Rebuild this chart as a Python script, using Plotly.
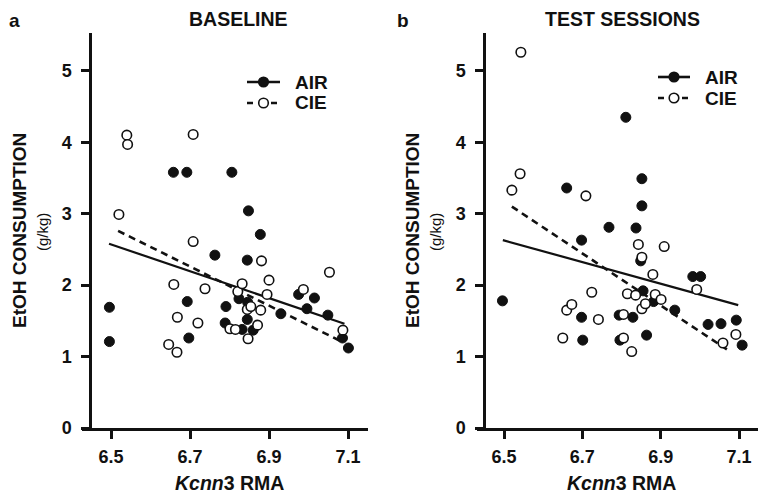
import plotly.graph_objects as go

# ---------------- data ----------------
# Panel a: BASELINE
a_air_x = [6.496, 6.496, 6.658, 6.692, 6.693, 6.697, 6.763, 6.791, 6.789, 6.806, 6.824, 6.846,
           6.832, 6.845, 6.845, 6.848, 6.860, 6.878, 6.930, 6.975, 6.996, 7.015, 7.049, 7.086, 7.101]
a_air_y = [1.69, 1.21, 3.58, 3.58, 1.77, 1.26, 2.42, 1.70, 1.47, 3.58, 1.81, 1.76,
           1.38, 2.35, 1.52, 3.04, 1.37, 2.71, 1.60, 1.87, 1.67, 1.82, 1.58, 1.26, 1.12]
a_cie_x = [6.520, 6.540, 6.542, 6.646, 6.659, 6.667, 6.668, 6.708, 6.708, 6.720, 6.738, 6.801, 6.815,
           6.821, 6.832, 6.845, 6.847, 6.854, 6.871, 6.881, 6.879, 6.895, 6.900, 6.987, 7.053, 7.087]
a_cie_y = [2.99, 4.10, 3.97, 1.17, 2.01, 1.06, 1.55, 4.11, 2.61, 1.47, 1.95, 1.39, 1.38,
           1.91, 2.02, 1.66, 1.25, 1.70, 1.44, 2.34, 1.65, 1.87, 2.07, 1.94, 2.18, 1.37]
a_fit_air_x = [6.495, 7.091]
a_fit_air_y = [2.58, 1.46]
a_fit_cie_x = [6.518, 7.080]
a_fit_cie_y = [2.76, 1.22]

# Panel b: TEST SESSIONS
b_air_x = [6.496, 6.660, 6.698, 6.698, 6.701, 6.768, 6.794, 6.796, 6.811, 6.829, 6.837, 6.849,
           6.852, 6.852, 6.855, 6.864, 6.882, 6.936, 6.982, 7.002, 7.021, 7.054, 7.093, 7.108]
b_air_y = [1.78, 3.36, 2.63, 1.55, 1.23, 2.81, 1.58, 1.23, 4.35, 1.55, 2.80, 2.34,
           3.49, 3.11, 1.92, 1.30, 1.77, 1.65, 2.12, 2.12, 1.45, 1.46, 1.51, 1.16]
b_cie_x = [6.520, 6.541, 6.543, 6.650, 6.660, 6.673, 6.709, 6.724, 6.741, 6.805, 6.805, 6.815, 6.826,
           6.836, 6.843, 6.852, 6.852, 6.861, 6.880, 6.886, 6.901, 6.909, 6.992, 7.059, 7.092]
b_cie_y = [3.33, 3.56, 5.26, 1.26, 1.65, 1.73, 3.25, 1.90, 1.52, 1.59, 1.26, 1.88, 1.07,
           1.86, 2.57, 2.39, 1.67, 1.74, 2.15, 1.87, 1.80, 2.54, 1.94, 1.19, 1.31]
b_fit_air_x = [6.497, 7.098]
b_fit_air_y = [2.63, 1.72]
b_fit_cie_x = [6.520, 7.069]
b_fit_cie_y = [3.10, 1.10]

x_ticks = [6.5, 6.7, 6.9, 7.1]
x_tick_labels = ["6.5", "6.7", "6.9", "7.1"]
y_ticks = [0, 1, 2, 3, 4, 5]
group_names = ["AIR", "CIE"]
panel_titles = ["BASELINE", "TEST SESSIONS"]
panel_letters = ["a", "b"]
x_title = "<i>Kcnn</i>3 RMA"
y_title = "EtOH CONSUMPTION"
y_unit = "(g/kg)"

FONT = "Liberation Sans, Arial, sans-serif"
BLACK = "#111111"

fig = go.Figure()

def add_panel(xa, ya, air_x, air_y, cie_x, cie_y, fax, fay, fcx, fcy):
    fig.add_trace(go.Scatter(x=fax, y=fay, mode="lines", xaxis=xa, yaxis=ya,
                             line=dict(color=BLACK, width=2.2), showlegend=False))
    fig.add_trace(go.Scatter(x=fcx, y=fcy, mode="lines", xaxis=xa, yaxis=ya,
                             line=dict(color=BLACK, width=2.6, dash="7px,5px"), showlegend=False))
    fig.add_trace(go.Scatter(x=air_x, y=air_y, mode="markers", xaxis=xa, yaxis=ya,
                             marker=dict(symbol="circle", size=10, color=BLACK,
                                         line=dict(color=BLACK, width=1)),
                             showlegend=False))
    fig.add_trace(go.Scatter(x=cie_x, y=cie_y, mode="markers", xaxis=xa, yaxis=ya,
                             marker=dict(symbol="circle", size=9.5, color="white",
                                         line=dict(color=BLACK, width=1.6)),
                             showlegend=False))

add_panel("x", "y", a_air_x, a_air_y, a_cie_x, a_cie_y,
          a_fit_air_x, a_fit_air_y, a_fit_cie_x, a_fit_cie_y)
add_panel("x2", "y2", b_air_x, b_air_y, b_cie_x, b_cie_y,
          b_fit_air_x, b_fit_air_y, b_fit_cie_x, b_fit_cie_y)

# The page body has an 8px margin, so the figure is 8px smaller than the window.
PAGE = 8
W, H = 766 - PAGE, 493 - PAGE
ML, MR, MT, MB = 82 - PAGE, 4, 33 - PAGE, 65
pw = W - ML - MR
ph = H - MT - MB

# screen pixel -> paper fraction
def px_x(p):
    return (p - 82) / pw

def px_y(p):
    return (428 - p) / ph

dom_a = [px_x(82), px_x(368)]
dom_b = [px_x(477), px_x(762)]

tickfont = dict(family=FONT, size=18, color=BLACK, weight="bold")
common_x = dict(showgrid=False, zeroline=False, showline=True, linecolor=BLACK, linewidth=2.5,
                ticks="outside", ticklen=8, tickwidth=2.5, tickcolor=BLACK,
                tickvals=x_ticks, ticktext=x_tick_labels, tickfont=tickfont,
                ticklabelstandoff=3)
common_y = dict(showgrid=False, zeroline=False, showline=True, linecolor=BLACK, linewidth=2.5,
                ticks="outside", ticklen=8, tickwidth=2.5, tickcolor=BLACK,
                tickvals=y_ticks, tickfont=tickfont, range=[0, 5.53],
                ticklabelstandoff=6)

fig.update_layout(
    width=W, height=H,
    margin=dict(l=ML, r=MR, t=MT, b=MB),
    paper_bgcolor="white", plot_bgcolor="white",
    xaxis=dict(domain=dom_a, range=[6.4266, 7.1506], anchor="y", **common_x),
    yaxis=dict(domain=[0, 1], anchor="free", position=px_x(90), **common_y),
    xaxis2=dict(domain=dom_b, range=[6.431, 7.1587], anchor="y2", **common_x),
    yaxis2=dict(domain=[0, 1], anchor="free", position=px_x(484), **common_y),
    showlegend=False,
)

def text(x, y, s, size, bold=True, angle=0, xanchor="center"):
    fig.add_annotation(xref="paper", yref="paper", x=px_x(x), y=px_y(y), text=s,
                       showarrow=False, xanchor=xanchor, yanchor="middle", textangle=angle,
                       font=dict(family=FONT, size=size, color=BLACK,
                                 weight="bold" if bold else "normal"))

# panel titles, letters, axis titles
for title, cx, letter, lx, xt_cx, yt_x in zip(panel_titles, [238, 622], panel_letters, [14, 403],
                                              [229, 621], [19, 412]):
    text(cx, 19, title, 19.5)
    text(lx, 20, letter, 19)
    text(xt_cx, 483, x_title, 19.5)
    text(yt_x, 231, y_title, 19, angle=-90)
    text(yt_x + 23, 232, y_unit, 15, bold=False, angle=-90)

# manual legends (line sample + symbol + label)
def legend_row(x0, x1, y, name, dash, filled):
    fig.add_shape(type="line", xref="paper", yref="paper", x0=px_x(x0), x1=px_x(x1),
                  y0=px_y(y), y1=px_y(y), line=dict(color=BLACK, width=2.6, dash=dash))
    cx = px_x((x0 + x1) / 2)
    cy = px_y(y)
    fig.add_shape(type="circle", xref="paper", yref="paper", xsizemode="pixel", ysizemode="pixel",
                  xanchor=cx, yanchor=cy, x0=-4.8, x1=4.8, y0=-4.8, y1=4.8,
                  fillcolor=BLACK if filled else "white", line=dict(color=BLACK, width=1.6))
    text(x1 + 13, y, name, 19, xanchor="left")

for (x0, x1, ya, yc) in [(247, 280, 82, 103), (658, 690, 77, 98)]:
    legend_row(x0, x1, ya, group_names[0], "solid", True)
    legend_row(x0, x1, yc, group_names[1], "6px,6px", False)

fig.write_html("out.html")
